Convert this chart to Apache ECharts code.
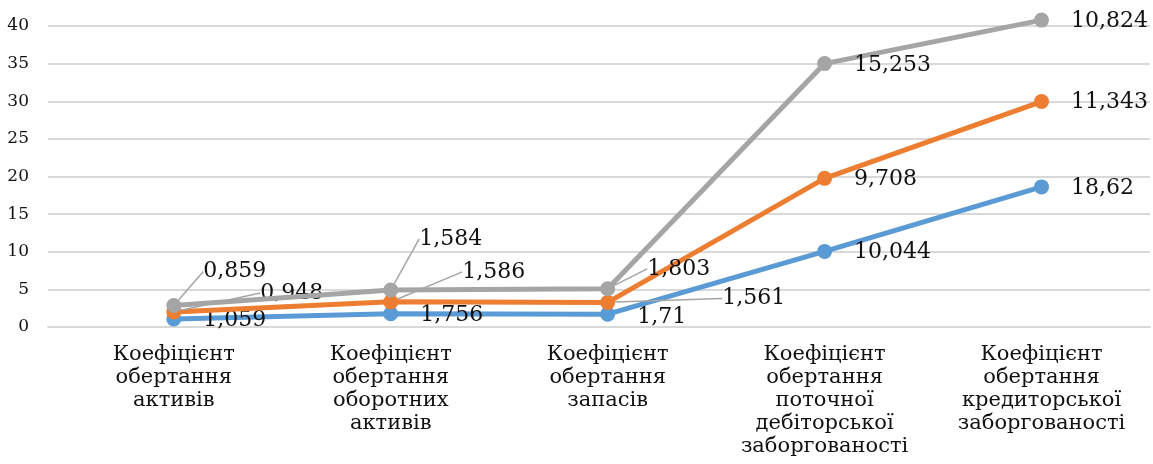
<!DOCTYPE html>
<html>
<head>
<meta charset="utf-8">
<script src="https://cdn.jsdelivr.net/npm/echarts@6/dist/echarts.min.js"></script>
<style>
html,body{margin:0;padding:0;background:#fff;}
#chart{width:1153px;height:464px;}
</style>
</head>
<body>
<div id="chart"></div>
<script>
const categories = [
  'Коефіцієнт\nобертання\nактивів',
  'Коефіцієнт\nобертання\nоборотних\nактивів',
  'Коефіцієнт\nобертання\nзапасів',
  'Коефіцієнт\nобертання\nпоточної\nдебіторської\nзаборгованості',
  'Коефіцієнт\nобертання\nкредиторської\nзаборгованості'
];
const seriesBlue = [1.059, 1.756, 1.71, 10.044, 18.62];
const seriesOrange = [0.948, 1.586, 1.561, 9.708, 11.343];
const seriesGray = [0.859, 1.584, 1.803, 15.253, 10.824];
const yTicks = [0, 5, 10, 15, 20, 25, 30, 35, 40];

// label offsets (style only): [dx, dy] relative to default 'right' position
const offBlue = [[0,1],[0,1],[0,3],[0,1],[0,1]];
const offOrange = [[57,-19],[42,-30],[85,-4],[0,1],[0,1]];
const offGray = [[0,-34],[-1,-51],[10,-20],[0,2],[0,1]];

const FONT = 'DejaVu Serif';
const fmt = v => String(v).replace('.', ',');

const stacks = [seriesBlue, seriesOrange, seriesGray];
const cum = [];
stacks.forEach((s, k) => {
  cum.push(s.map((v, i) => k === 0 ? v : cum[k - 1][i] + v));
});

function makeSeries(k, color, offs) {
  return {
    type: 'line',
    clip: false,
    symbol: 'circle',
    symbolSize: 15,
    lineStyle: { color: color, width: 5 },
    itemStyle: { color: color },
    z: 2 + k,
    data: cum[k].map((v, i) => ({
      value: [i, v],
      labelLine: { show: (offs[i][0] !== 0 || Math.abs(offs[i][1]) > 5) }
    })),
    label: {
      show: true,
      position: 'right',
      distance: 22,
      fontFamily: FONT,
      fontSize: 22,
      color: '#111',
      formatter: p => fmt(stacks[k][p.dataIndex])
    },
    labelLine: { show: true, lineStyle: { color: '#a5a5a5', width: 1.5 } },
    labelLayout: p => ({ dx: offs[p.dataIndex][0], dy: offs[p.dataIndex][1] })
  };
}

const chart = echarts.init(document.getElementById('chart'));
chart.setOption({
  animation: false,
  backgroundColor: '#fff',
  grid: { left: 48, right: 3, top: 26, bottom: 137, containLabel: false },
  xAxis: {
    type: 'value',
    min: -0.58,
    max: 4.5,
    splitLine: { show: false },
    axisTick: { show: false },
    axisLine: { show: true, lineStyle: { color: '#d9d9d9', width: 2 } },
    axisLabel: {
      customValues: [0, 1, 2, 3, 4],
      formatter: v => categories[Math.round(v)] || '',
      fontFamily: FONT,
      fontSize: 21,
      lineHeight: 23,
      color: '#111',
      margin: 16,
      align: 'center'
    }
  },
  yAxis: {
    type: 'value',
    min: yTicks[0],
    max: yTicks[yTicks.length - 1],
    interval: yTicks[1] - yTicks[0],
    axisLine: { show: false },
    axisTick: { show: false },
    splitLine: { show: true, lineStyle: { color: '#d9d9d9', width: 2 } },
    axisLabel: { fontFamily: FONT, fontSize: 17, color: '#111', margin: 19 }
  },
  series: [
    makeSeries(0, '#5b9bd5', offBlue),
    makeSeries(1, '#ed7d31', offOrange),
    makeSeries(2, '#a5a5a5', offGray)
  ]
});
</script>
</body>
</html>
